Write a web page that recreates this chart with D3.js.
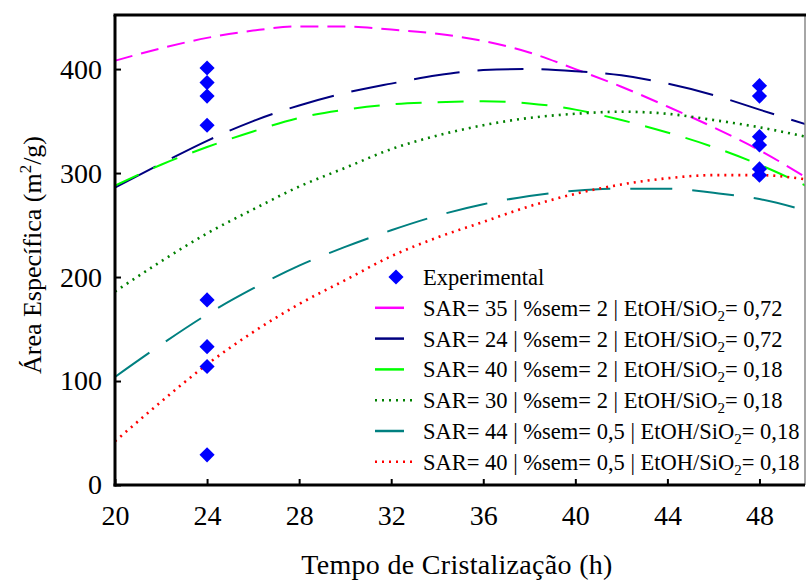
<!DOCTYPE html>
<html>
<head>
<meta charset="utf-8">
<script src="https://cdn.jsdelivr.net/npm/d3@7"></script>
<style>
  body { margin: 0; background: #fff; }
  text { font-family: "Liberation Serif", "Times New Roman", serif; }
</style>
</head>
<body>
<div id="chart"></div>
<script>
// model curves, sampled every 2 h
const hours = [20, 22, 24, 26, 28, 30, 32, 34, 36, 38, 40, 42, 44, 46, 48, 50];
const sar35 = [408, 420, 430, 437, 441, 441, 438, 434, 427, 416, 400, 383, 364, 344, 322, 296];
const sar24 = [286, 309, 331, 350, 365, 377, 386, 394, 399, 400, 398, 394, 386, 375, 361, 347];
const sar40a = [288, 308, 325, 340, 353, 361, 366, 368, 369, 367, 361, 351, 339, 325, 308, 288];
const sar30 = [186, 215, 242, 265, 287, 305, 323, 336, 346, 353, 357, 359, 357, 351, 344, 335];
const sar44 = [104, 135, 164, 189, 211, 229, 245, 259, 270, 278, 283, 285, 285, 281, 275, 264];
const sar40b = [42, 80, 116, 147, 174, 197, 220, 238, 253, 268, 280, 289, 295, 298, 298, 294];

// experimental points
const expHours = [24, 24, 24, 24, 24, 24, 24, 24, 48, 48, 48, 48, 48, 48];
const expArea = [401, 387, 374, 346, 178, 133, 114, 29, 384, 374, 335, 327, 304, 298];

const sarLabels = ["35", "24", "40", "30", "44", "40"];
const semLabels = ["2", "2", "2", "2", "0,5", "0,5"];
const ratioLabels = ["0,72", "0,72", "0,18", "0,18", "0,18", "0,18"];

const xTicks = [20, 24, 28, 32, 36, 40, 44, 48];
const yTicks = [0, 100, 200, 300, 400];

const series = [sar35, sar24, sar40a, sar30, sar44, sar40b];
const colors = ["#ff00ff", "#000080", "#00ff00", "#008000", "#008080", "#ff0000"];
const dashes = ["18,9", "46,18", "26,16", "2,5", "42,20", "2,5"];

let width = 806,
  height = 582,
  mLeft = 115, mRight = 805, mTop = 15, mBottom = 485;

let svg = d3.select("#chart")
  .append("svg")
  .attr("width", width)
  .attr("height", height);

let x = d3.scaleLinear().domain([20, 50]).range([mLeft, mRight + 0.5]);
let y = d3.scaleLinear().domain([0, 452]).range([mBottom, mTop]);

let line = d3.line()
  .x((d, i) => x(hours[i]))
  .y(d => y(d))
  .curve(d3.curveMonotoneX);

svg.append("defs").append("clipPath").attr("id", "clip")
  .append("rect")
  .attr("x", mLeft).attr("y", mTop)
  .attr("width", mRight - mLeft).attr("height", mBottom - mTop);

let plot = svg.append("g").attr("clip-path", "url(#clip)");

series.forEach((s, i) => {
  plot.append("path")
    .datum(s)
    .attr("d", line)
    .attr("fill", "none")
    .attr("stroke", colors[i])
    .attr("stroke-width", i == 3 || i == 5 ? 2.6 : 2)
    .attr("stroke-dasharray", dashes[i]);
});

let diamond = d3.symbol().type(d3.symbolSquare).size(115);

plot.selectAll(".exp")
  .data(expArea)
  .join("path")
  .attr("class", "exp")
  .attr("d", diamond)
  .attr("transform", (d, i) => `translate(${x(expHours[i])},${y(d)}) rotate(45)`)
  .attr("fill", "#0000ff");

// frame
svg.append("line").attr("x1", mRight).attr("x2", mRight).attr("y1", mTop).attr("y2", mBottom)
  .attr("stroke", "#888").attr("stroke-width", 1.5);
svg.append("line").attr("x1", mLeft - 1.5).attr("x2", mRight + 1).attr("y1", mTop).attr("y2", mTop)
  .attr("stroke", "#000").attr("stroke-width", 3);

let xAxis = svg.append("g")
  .attr("transform", `translate(0,${mBottom})`)
  .call(d3.axisBottom(x).tickValues(xTicks).tickSizeInner(-6).tickSizeOuter(0).tickPadding(20));

let yAxis = svg.append("g")
  .attr("transform", `translate(${mLeft},0)`)
  .call(d3.axisLeft(y).tickValues(yTicks).tickSizeInner(-6).tickSizeOuter(0).tickPadding(13));

[xAxis, yAxis].forEach(g => {
  g.select(".domain").attr("stroke", "#000").attr("stroke-width", 3);
  g.selectAll(".tick line").attr("stroke", "#000").attr("stroke-width", 2);
  g.selectAll(".tick text")
    .attr("fill", "#000")
    .style("font-family", "'Liberation Serif', serif")
    .style("font-size", "28px");
});
xAxis.select(".domain").attr("d", `M${mLeft - 1.5},0H${mRight}`);
yAxis.select(".domain").attr("d", `M0,${mTop}V${mBottom + 1.5}`);

// axis titles
svg.append("text")
  .attr("x", 457)
  .attr("y", 574)
  .attr("text-anchor", "middle")
  .style("font-size", "28px")
  .style("letter-spacing", "0.3px")
  .text("Tempo de Cristalização (h)");

let yt = svg.append("text")
  .attr("transform", "translate(41,255) rotate(-90)")
  .attr("text-anchor", "middle")
  .style("font-size", "26px");
yt.append("tspan").text("Área Específica (m");
yt.append("tspan").attr("dy", -10).style("font-size", "17px").text("2");
yt.append("tspan").attr("dy", 10).text("/g)");

// legend
let lg = svg.append("g");
let ly0 = 277, lstep = 30.8;

lg.append("path")
  .attr("d", diamond)
  .attr("transform", `translate(396,${ly0}) rotate(45)`)
  .attr("fill", "#0000ff");
lg.append("text")
  .attr("x", 423).attr("y", ly0 + 8)
  .style("font-size", "22.5px")
  .text("Experimental");

series.forEach((s, i) => {
  let ly = ly0 + lstep * (i + 1);
  lg.append("line")
    .attr("x1", 375).attr("x2", i == 3 || i == 5 ? 414 : 404)
    .attr("y1", ly).attr("y2", ly)
    .attr("stroke", colors[i])
    .attr("stroke-width", i == 3 || i == 5 ? 2.6 : 2.5)
    .attr("stroke-dasharray", i == 3 || i == 5 ? "2,5" : null);
  let t = lg.append("text")
    .attr("x", 423).attr("y", ly + 8)
    .style("font-size", "22.5px");
  t.append("tspan").text(`SAR= ${sarLabels[i]} | %sem= ${semLabels[i]} | EtOH/SiO`);
  t.append("tspan").attr("dy", 5).style("font-size", "15px").text("2");
  t.append("tspan").attr("dy", -5).text(`= ${ratioLabels[i]}`);
});
</script>
</body>
</html>
